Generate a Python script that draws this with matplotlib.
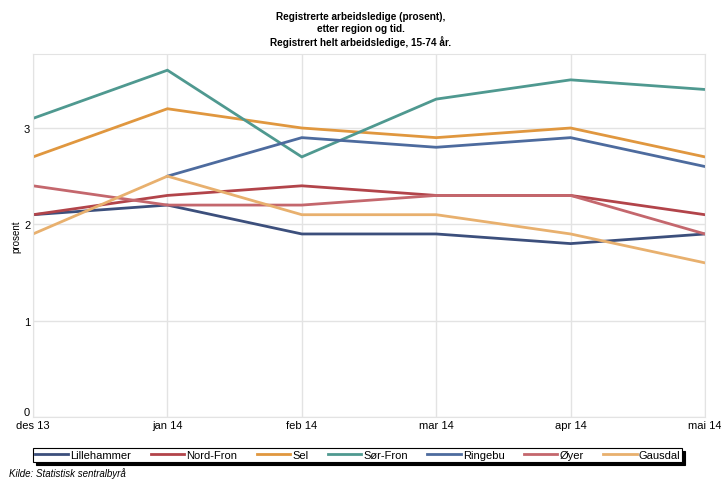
import matplotlib
matplotlib.use('Agg')
from matplotlib import pyplot as plt
from matplotlib import font_manager
import numpy as np

months = ['des 13', 'jan 14', 'feb 14', 'mar 14', 'apr 14', 'mai 14']

lillehammer = [2.1, 2.2, 1.9, 1.9, 1.8, 1.9]
nordfron = [2.1, 2.3, 2.4, 2.3, 2.3, 2.1]
sel = [2.7, 3.2, 3.0, 2.9, 3.0, 2.7]
sorfron = [3.1, 3.6, 2.7, 3.3, 3.5, 3.4]
ringebu = [np.nan, 2.5, 2.9, 2.8, 2.9, 2.6]
oyer = [2.4, 2.2, 2.2, 2.3, 2.3, 1.9]
gausdal = [1.9, 2.5, 2.1, 2.1, 1.9, 1.6]

series = [
    ('Lillehammer', lillehammer, '#3c4f7c'),
    ('Nord-Fron', nordfron, '#b2444a'),
    ('Sel', sel, '#e0973f'),
    ('Sør-Fron', sorfron, '#4f9990'),
    ('Ringebu', ringebu, '#4d6b9e'),
    ('Øyer', oyer, '#c4676d'),
    ('Gausdal', gausdal, '#e8b06e'),
]

names = [f.name for f in font_manager.fontManager.ttflist]
narrow = 'Liberation Sans Narrow' if 'Liberation Sans Narrow' in names else 'Liberation Sans'

fig = plt.figure(figsize=(7.21, 4.81), dpi=100)
ax = fig.add_axes([0.0458, 0.131, 0.932, 0.755])

x = np.arange(len(months))
for name, vals, col in series:
    ax.plot(x, vals, color=col, lw=2, label=name, solid_joinstyle='miter')

ax.set_xlim(0, len(months) - 1)
ax.set_ylim(0, 3.77)
ax.set_yticks([0, 1, 2, 3])
ax.set_xticks(x)
ax.set_xticklabels(months, family=narrow, fontsize=8)
for lab in ax.get_yticklabels():
    lab.set_family(narrow)
    lab.set_fontsize(8)
ax.get_yticklabels()[0].set_va('bottom')
ax.tick_params(length=0, pad=2)
ax.grid(True, color='#e3e3e3', lw=1)
ax.set_axisbelow(True)
for sp in ax.spines.values():
    sp.set_color('#e3e3e3')
ax.set_ylabel('prosent', family=narrow, fontsize=7, labelpad=2)

fig.text(0.5, 0.975, 'Registrerte arbeidsledige (prosent),\netter region og tid.\nRegistrert helt arbeidsledige, 15-74 år.',
         ha='center', va='top', fontsize=7.2, fontweight='bold', family='Liberation Sans', linespacing=1.25)

leg = fig.legend(loc='lower left', bbox_to_anchor=(0.046, 0.038, 0.9, 0.03), ncol=7, mode='expand',
                 prop={'family': narrow, 'size': 8}, handlelength=3, handletextpad=0.2,
                 borderpad=0.15, fancybox=False,
                 shadow={'ox': 2.2, 'oy': -2.2, 'alpha': 1, 'facecolor': 'black', 'edgecolor': 'black'},
                 framealpha=1, edgecolor='black', borderaxespad=0)
leg.get_frame().set_linewidth(0.8)

fig.text(0.012, 0.008, 'Kilde: Statistisk sentralbyrå', fontsize=7, style='italic', family=narrow)

fig.savefig('out.png', dpi=100)
